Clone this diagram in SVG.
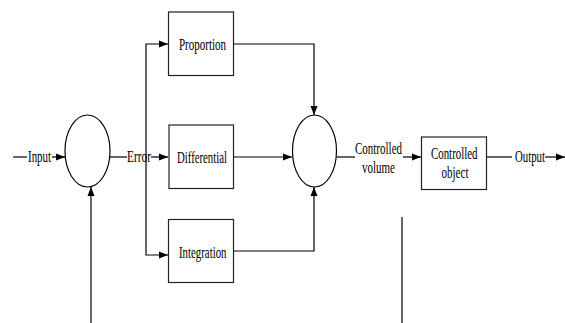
<svg xmlns="http://www.w3.org/2000/svg" width="565" height="323" viewBox="0 0 565 323">
<style>
.ln{fill:none;stroke:#000;stroke-width:1.2}
.box{fill:#fff;stroke:#222;stroke-width:1.2}
.sum{fill:#fff;stroke:#000;stroke-width:1.2}
text{font-family:"Liberation Serif","Times New Roman",serif;font-size:17px;fill:#000}
</style>
<defs>
<marker id="ah" markerUnits="userSpaceOnUse" markerWidth="10" markerHeight="8" refX="9" refY="4" orient="auto">
<path d="M0,0.5 L9,4 L0,7.5 z" fill="#000"/>
</marker>
</defs>
<rect width="565" height="323" fill="#fff"/>
<g id="connectors">
<path class="ln" d="M13,157 H27"/>
<path class="ln" d="M52,157 H65" marker-end="url(#ah)"/>
<path class="ln" d="M110,157 H127"/>
<path class="ln" d="M151,157 H168" marker-end="url(#ah)"/>
<path class="ln" d="M146,157 V44 H168" marker-end="url(#ah)"/>
<path class="ln" d="M146,157 V255 H168" marker-end="url(#ah)"/>
<path class="ln" d="M91,323 V187" marker-end="url(#ah)"/>
<path class="ln" d="M233,44 H314 V115" marker-end="url(#ah)"/>
<path class="ln" d="M233,157 H292" marker-end="url(#ah)"/>
<path class="ln" d="M232,251 H314 V187" marker-end="url(#ah)"/>
<path class="ln" d="M337,157 H355"/>
<path class="ln" d="M403,157 H421" marker-end="url(#ah)"/>
<path class="ln" d="M487,157 H512"/>
<path class="ln" d="M545,157 H565" marker-end="url(#ah)"/>
<path class="ln" d="M402,217 V323"/>
<text x="28" y="162" textLength="23" lengthAdjust="spacingAndGlyphs">Input</text>
<text x="127" y="162" textLength="24" lengthAdjust="spacingAndGlyphs">Error</text>
<text x="355" y="154" textLength="47" lengthAdjust="spacingAndGlyphs">Controlled</text>
<text x="362" y="173" textLength="33" lengthAdjust="spacingAndGlyphs">volume</text>
<text x="515" y="162" textLength="30" lengthAdjust="spacingAndGlyphs">Output</text>
</g>
<g id="sum1"><ellipse class="sum" cx="87.5" cy="151" rx="22.5" ry="36"/></g>
<g id="sum2"><ellipse class="sum" cx="314.5" cy="151" rx="22" ry="36"/></g>
<g id="proportion">
<rect class="box" x="168.5" y="12" width="65" height="63.5"/>
<text x="179" y="50" textLength="47" lengthAdjust="spacingAndGlyphs">Proportion</text>
</g>
<g id="differential">
<rect class="box" x="169" y="125" width="64.5" height="63.5"/>
<text x="177" y="163" textLength="50" lengthAdjust="spacingAndGlyphs">Differential</text>
</g>
<g id="integration">
<rect class="box" x="168.5" y="219.5" width="65" height="63"/>
<text x="179" y="258" textLength="47.5" lengthAdjust="spacingAndGlyphs">Integration</text>
</g>
<g id="object">
<rect class="box" x="421.5" y="137" width="65" height="52.5"/>
<text x="431" y="159" textLength="46.5" lengthAdjust="spacingAndGlyphs">Controlled</text>
<text x="441.5" y="178" textLength="27" lengthAdjust="spacingAndGlyphs">object</text>
</g>
</svg>
